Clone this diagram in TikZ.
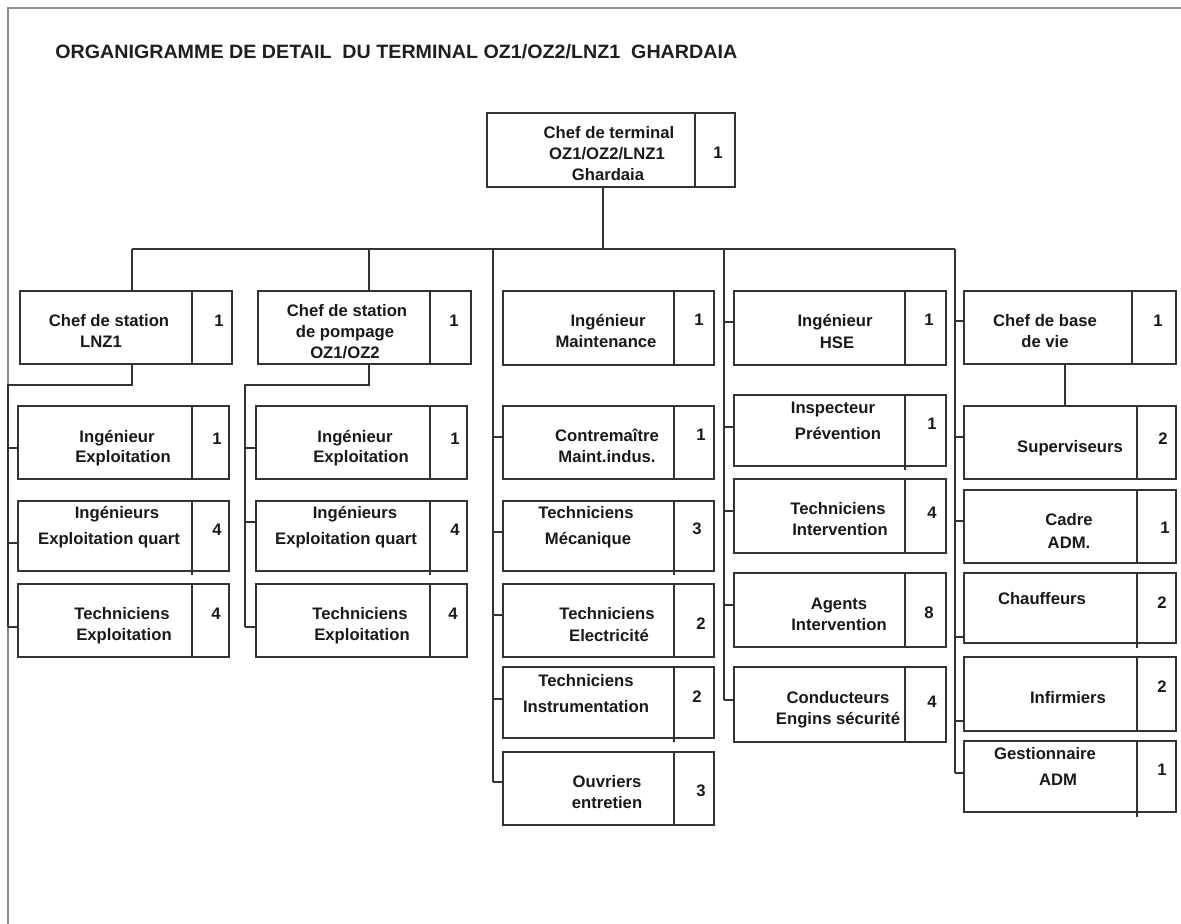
\documentclass[tikz,border=0pt]{standalone}
\usepackage{fontspec}
\usepackage{graphicx}
\setmainfont{Liberation Sans}
\usetikzlibrary{fit}
\newcommand\orgbox[6]{%
  \node[boxst, fit={(#2,#3) (#4,#5)}] (#1) {};
  \draw[divst] (#1.north -| #6,0) -- (#1.south -| #6,0);}
\newcommand\txt[4]{\node[lbl] (#1) at (#2,#3) {#4};}
\begin{document}
\begin{tikzpicture}[x=0.75pt,y=-0.75pt,
  boxst/.style={draw=black!80, line width=1.35pt, inner sep=0pt, rectangle},
  divst/.style={draw=black!80, line width=1.2pt},
  ln/.style={draw=black!80, line width=1.25pt},
  framest/.style={draw=black!45, line width=1.5pt},
  lbl/.style={font=\fontsize{12.5}{15}\selectfont\bfseries, text=black!90, inner sep=0pt, anchor=base}]
\useasboundingbox (0,0) rectangle (1181,924);
% frame
\coordinate (fbot) at (8,924);
\coordinate (fcorner) at (8,8);
\coordinate (fright) at (1181,8);
\draw[framest] (fbot) -- (fcorner) -- (fright);
% title
\node[anchor=base west, inner sep=0pt, text=black!88] (title) at (55,59)
  {\resizebox{511.5pt}{10.5pt}{\bfseries ORGANIGRAMME DE DETAIL\ \ DU TERMINAL OZ1/OZ2/LNZ1\ \ GHARDAIA}};

% ---------- boxes ----------
\orgbox{T}{487}{113}{735}{187}{695}
\txt{Ta}{609}{138}{Chef de terminal}
\txt{Tb}{607}{159}{OZ1/OZ2/LNZ1}
\txt{Tc}{608}{180}{Ghardaia}
\txt{Tn}{718}{158}{1}

\orgbox{B1}{20}{291}{232}{364}{192}
\txt{B1a}{109}{326}{Chef de station}
\txt{B1b}{101}{347}{LNZ1}
\txt{B1n}{219}{326}{1}

\orgbox{B2}{258}{291}{471}{364}{430}
\txt{B2a}{347}{316}{Chef de station}
\txt{B2b}{345}{337}{de pompage}
\txt{B2c}{345}{358}{OZ1/OZ2}
\txt{B2n}{454}{326}{1}

\orgbox{M0}{503}{291}{714}{365}{674}
\txt{M0a}{608}{326}{Ingénieur}
\txt{M0b}{606}{347}{Maintenance}
\txt{M0n}{699}{325}{1}

\orgbox{H0}{734}{291}{946}{365}{905}
\txt{H0a}{835}{326}{Ingénieur}
\txt{H0b}{837}{348}{HSE}
\txt{H0n}{929}{325}{1}

\orgbox{R0}{964}{291}{1176}{364}{1132}
\txt{R0a}{1045}{326}{Chef de base}
\txt{R0b}{1045}{347}{de vie}
\txt{R0n}{1158}{326}{1}

% column LNZ1
\orgbox{A1}{18}{406}{229}{479}{192}
\txt{A1a}{117}{442}{Ingénieur}
\txt{A1b}{123}{462}{Exploitation}
\txt{A1n}{217}{444}{1}
\orgbox{A2}{18}{501}{229}{571}{192}
\txt{A2a}{117}{518}{Ingénieurs}
\txt{A2b}{109}{544}{Exploitation quart}
\txt{A2n}{217}{535}{4}
\orgbox{A3}{18}{584}{229}{657}{192}
\txt{A3a}{122}{619}{Techniciens}
\txt{A3b}{124}{640}{Exploitation}
\txt{A3n}{216}{619}{4}

% column OZ1/OZ2
\orgbox{P1}{256}{406}{467}{479}{430}
\txt{P1a}{355}{442}{Ingénieur}
\txt{P1b}{361}{462}{Exploitation}
\txt{P1n}{455}{444}{1}
\orgbox{P2}{256}{501}{467}{571}{430}
\txt{P2a}{355}{518}{Ingénieurs}
\txt{P2b}{346}{544}{Exploitation quart}
\txt{P2n}{455}{535}{4}
\orgbox{P3}{256}{584}{467}{657}{430}
\txt{P3a}{360}{619}{Techniciens}
\txt{P3b}{362}{640}{Exploitation}
\txt{P3n}{453}{619}{4}

% column maintenance
\orgbox{M1}{503}{406}{714}{479}{674}
\txt{M1a}{607}{441}{Contremaître}
\txt{M1b}{607}{462}{Maint.indus.}
\txt{M1n}{701}{440}{1}
\orgbox{M2}{503}{501}{714}{571}{674}
\txt{M2a}{586}{518}{Techniciens}
\txt{M2b}{588}{544}{Mécanique}
\txt{M2n}{697}{534}{3}
\orgbox{M3}{503}{584}{714}{657}{674}
\txt{M3a}{607}{619}{Techniciens}
\txt{M3b}{609}{641}{Electricité}
\txt{M3n}{701}{629}{2}
\orgbox{M4}{503}{667}{714}{738}{674}
\txt{M4a}{586}{686}{Techniciens}
\txt{M4b}{586}{712}{Instrumentation}
\txt{M4n}{697}{702}{2}
\orgbox{M5}{503}{752}{714}{825}{674}
\txt{M5a}{607}{787}{Ouvriers}
\txt{M5b}{607}{808}{entretien}
\txt{M5n}{701}{796}{3}

% column HSE
\orgbox{H1}{734}{395}{946}{466}{905}
\txt{H1a}{833}{413}{Inspecteur}
\txt{H1b}{838}{439}{Prévention}
\txt{H1n}{932}{429}{1}
\orgbox{H2}{734}{479}{946}{553}{905}
\txt{H2a}{838}{514}{Techniciens}
\txt{H2b}{840}{535}{Intervention}
\txt{H2n}{932}{518}{4}
\orgbox{H3}{734}{573}{946}{647}{905}
\txt{H3a}{839}{609}{Agents}
\txt{H3b}{839}{630}{Intervention}
\txt{H3n}{929}{618}{8}
\orgbox{H4}{734}{667}{946}{742}{905}
\txt{H4a}{838}{703}{Conducteurs}
\txt{H4b}{838}{724}{Engins sécurité}
\txt{H4n}{932}{707}{4}

% column base de vie
\orgbox{R1}{964}{406}{1176}{479}{1137}
\txt{R1a}{1070}{452}{Superviseurs}
\txt{R1n}{1163}{444}{2}
\orgbox{R2}{964}{490}{1176}{563}{1137}
\txt{R2a}{1069}{525}{Cadre}
\txt{R2b}{1069}{548}{ADM.}
\txt{R2n}{1165}{533}{1}
\orgbox{R3}{964}{573}{1176}{643}{1137}
\txt{R3a}{1042}{604}{Chauffeurs}
\txt{R3n}{1162}{608}{2}
\orgbox{R4}{964}{657}{1176}{731}{1137}
\txt{R4a}{1068}{703}{Infirmiers}
\txt{R4n}{1162}{692}{2}
\orgbox{R5}{964}{741}{1176}{812}{1137}
\txt{R5a}{1045}{759}{Gestionnaire}
\txt{R5b}{1058}{785}{ADM}
\txt{R5n}{1162}{775}{1}

% small divider overhangs
\draw[divst] (A2.south -| 192,0) -- ++(0,3);
\draw[divst] (P2.south -| 430,0) -- ++(0,3);
\draw[divst] (M2.south -| 674,0) -- ++(0,3);
\draw[divst] (M4.south -| 674,0) -- ++(0,3);
\draw[divst] (H1.south -| 905,0) -- ++(0,3);
\draw[divst] (R3.south -| 1137,0) -- ++(0,4);
\draw[divst] (R5.south -| 1137,0) -- ++(0,4);

% ---------- connectors ----------
\coordinate (busL) at (132,249);
\coordinate (busT) at (603,249);
\coordinate (busB2) at (369,249);
\coordinate (spM) at (493,249);
\coordinate (spH) at (724,249);
\coordinate (busR) at (955,249);
\draw[ln] (busL) -- (busR);
\draw[ln] (T.south -| busT) -- (busT);
\draw[ln] (busL) -- (B1.north -| busL);
\draw[ln] (busB2) -- (B2.north -| busB2);

% LNZ1 sub-tree
\coordinate (a1) at (132,385);
\coordinate (a2) at (8,385);
\coordinate (aE) at (8,627);
\draw[ln] (B1.south -| a1) -- (a1) -- (a2) -- (aE);
\draw[ln] (8,448) -- (A1.west |- 0,448);
\draw[ln] (8,543) -- (A2.west |- 0,543);
\draw[ln] (aE) -- (A3.west |- aE);

% OZ1/OZ2 sub-tree
\coordinate (p1) at (369,385);
\coordinate (p2) at (245,385);
\coordinate (pE) at (245,627);
\draw[ln] (B2.south -| p1) -- (p1) -- (p2) -- (pE);
\draw[ln] (245,448) -- (P1.west |- 0,448);
\draw[ln] (245,522) -- (P2.west |- 0,522);
\draw[ln] (pE) -- (P3.west |- pE);

% maintenance spine
\coordinate (mE) at (493,782);
\draw[ln] (spM) -- (mE);
\draw[ln] (493,437) -- (M1.west |- 0,437);
\draw[ln] (493,532) -- (M2.west |- 0,532);
\draw[ln] (493,615) -- (M3.west |- 0,615);
\draw[ln] (493,699) -- (M4.west |- 0,699);
\draw[ln] (mE) -- (M5.west |- mE);

% HSE spine
\coordinate (hE) at (724,700);
\draw[ln] (spH) -- (hE);
\draw[ln] (724,322) -- (H0.west |- 0,322);
\draw[ln] (724,427) -- (H1.west |- 0,427);
\draw[ln] (724,511) -- (H2.west |- 0,511);
\draw[ln] (724,605) -- (H3.west |- 0,605);
\draw[ln] (hE) -- (H4.west |- hE);

% base de vie spine
\coordinate (rE) at (955,773);
\draw[ln] (busR) -- (rE);
\draw[ln] (955,321) -- (R0.west |- 0,321);
\draw[ln] (955,437) -- (R1.west |- 0,437);
\draw[ln] (955,521) -- (R2.west |- 0,521);
\draw[ln] (955,637) -- (R3.west |- 0,637);
\draw[ln] (955,721) -- (R4.west |- 0,721);
\draw[ln] (rE) -- (R5.west |- rE);
\draw[ln] (R0.south -| 1065,0) -- (R1.north -| 1065,0);
\end{tikzpicture}
\end{document}
